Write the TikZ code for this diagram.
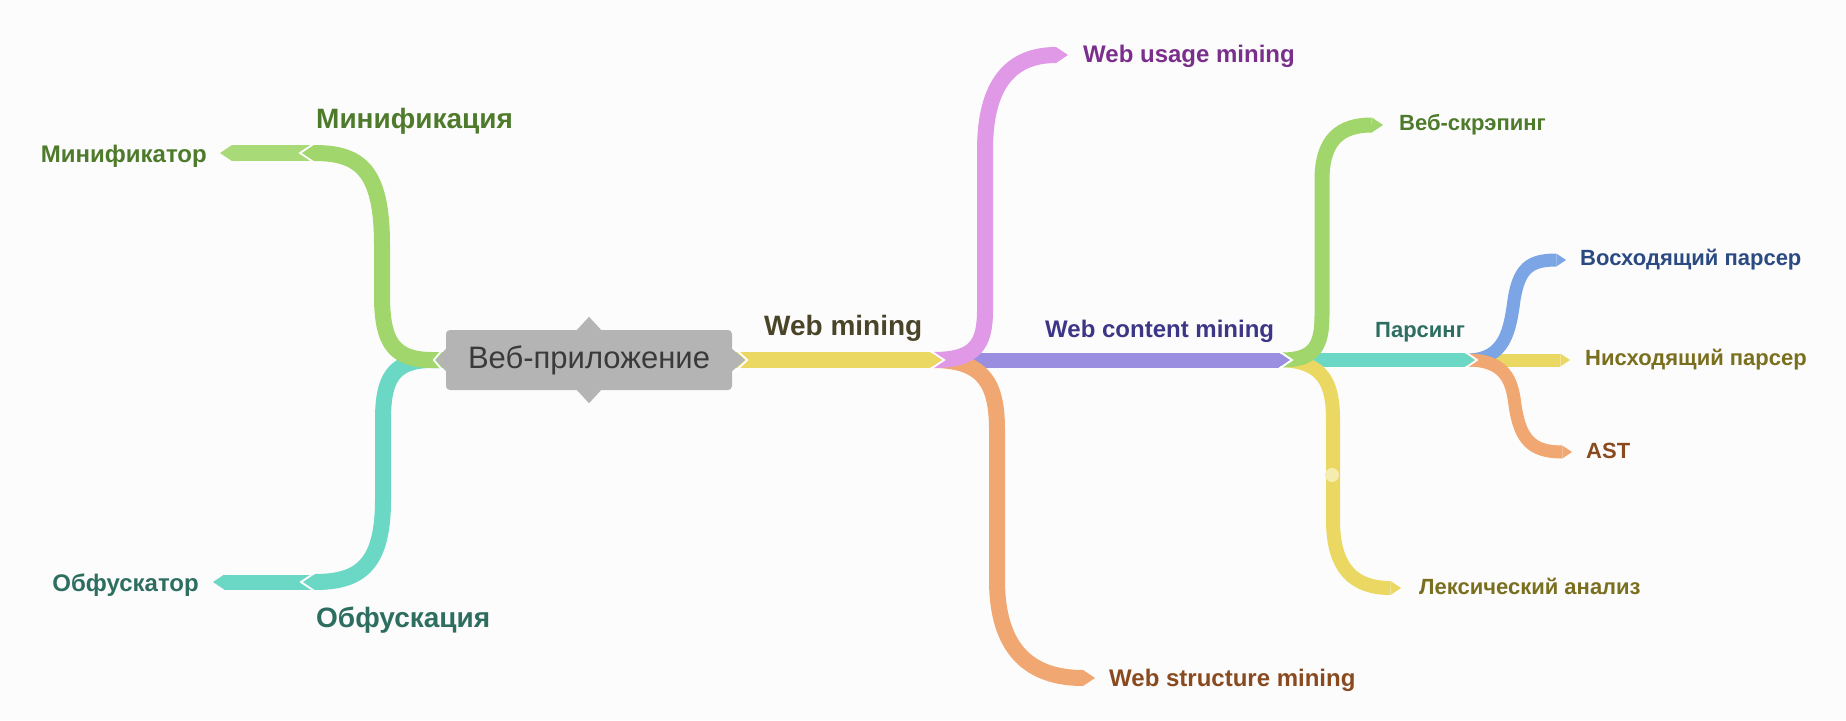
\documentclass[tikz,border=0pt]{standalone}
\usepackage{fontspec}
\setmainfont{Liberation Sans}
\usepackage{tikz}
\usetikzlibrary{arrows.meta}
\usetikzlibrary{positioning}

\definecolor{bgc}{HTML}{FCFCFC}
\definecolor{boxgray}{HTML}{B4B4B4}
\definecolor{apptext}{HTML}{3A3A3A}
\definecolor{cgreen}{HTML}{A0D66B}
\definecolor{cgreenL}{HTML}{A8DA78}
\definecolor{cteal}{HTML}{6AD8C5}
\definecolor{cyellow}{HTML}{EAD862}
\definecolor{cpink}{HTML}{E099E6}
\definecolor{corange}{HTML}{F0A772}
\definecolor{cpurple}{HTML}{9A8EE0}
\definecolor{cblue}{HTML}{7BA5E5}
\definecolor{dotc}{HTML}{F5EDB0}
\definecolor{tgreen}{HTML}{4E7A2C}
\definecolor{tteal}{HTML}{2E6E60}
\definecolor{tolive}{HTML}{4A4428}
\definecolor{tolivel}{HTML}{7A6F1E}
\definecolor{tpurple}{HTML}{7B2F8D}
\definecolor{tbrown}{HTML}{8A4A1F}
\definecolor{tindigo}{HTML}{3D3585}
\definecolor{tblue}{HTML}{2B4A82}

\tikzset{
  branch/.style={line width=#1, -{Triangle[width=0pt 1,length=0pt .75,line width=0pt]}},
  gap/.style={white, line width=1.8pt, line join=miter},
  lab/.style={anchor=base west, inner sep=0pt, font=\bfseries\fontsize{#1}{#1}\selectfont},
  appbox/.style={fill=boxgray, rounded corners=4pt, minimum width=286pt, minimum height=60pt,
                 inner sep=0pt, text=apptext, font=\fontsize{31}{31}\selectfont}
}

\begin{document}
\begin{tikzpicture}[x=1pt,y=-1pt]
    \fill[bgc] (0,0) rectangle (1846,720);

    % centre
    \node[appbox] (app) at (589,360) {Веб-приложение};

    % ends of the branches
    \coordinate (minJ) at (302,153);
    \coordinate (minE) at (220,153);
    \coordinate (obfJ) at (303,582);
    \coordinate (obfE) at (213,582);
    \coordinate (wm) at (942,360);
    \coordinate (usageE) at (1068,55);
    \coordinate (structE) at (1095,678);
    \coordinate (wcm) at (1290,360);
    \coordinate (scrapE) at (1383,125);
    \coordinate (lexE) at (1401,588);
    \coordinate (pars) at (1475,360);
    \coordinate (upE) at (1566,260);
    \coordinate (downE) at (1570,360);
    \coordinate (astE) at (1572,452);

    % left side
    \draw[branch=16pt, cgreenL] ([xshift=14pt]minJ) -- (minE);
    \draw[branch=15pt, cteal] ([xshift=14pt]obfJ) -- (obfE);
    \draw[branch=16pt, cteal] (app.west) -- (432,360) .. controls (392,360) and (383,380) .. (383,420)
        -- (383,500) .. controls (383,565) and (360,582) .. (obfJ);
    \draw[branch=16pt, cgreen] (app.west) -- (432,360) .. controls (392,360) and (383,340) .. (382,300)
        -- (382,245) .. controls (382,170) and (360,153) .. (minJ);

    % parsing
    \draw[branch=13pt, cyellow] ([xshift=-8pt]pars) -- (downE);
    \draw[branch=13pt, cblue] ([xshift=-8pt]pars) .. controls (1505,360) and (1510,330) .. (1514,300)
        .. controls (1519,268) and (1530,260) .. (upE);
    \draw[branch=13pt, corange] ([xshift=-8pt]pars) .. controls (1505,360) and (1512,380) .. (1515,405)
        .. controls (1520,440) and (1532,452) .. (astE);

    % web content mining
    \draw[branch=14pt, cteal] ([xshift=-6pt]wcm) -- (pars);
    \draw[branch=14pt, cyellow] ([xshift=-8pt]wcm) .. controls (1325,362) and (1333,385) .. (1333,420)
        -- (1333,520) .. controls (1333,570) and (1355,588) .. (lexE);
    \fill[dotc] (1332,475) circle (7pt);
    \draw[branch=15pt, cgreen] ([xshift=-8pt]wcm) .. controls (1315,360) and (1322,345) .. (1322,315)
        -- (1322,180) .. controls (1322,140) and (1340,125) .. (scrapE);

    % web mining
    \draw[branch=15pt, cpurple] ([xshift=-8pt]wm) -- (wcm);
    \draw[branch=16pt, corange] ([xshift=-9pt]wm) .. controls (985,360) and (997,385) .. (997,430)
        -- (997,580) .. controls (997,650) and (1030,678) .. (structE);
    \draw[branch=16pt, cpink] ([xshift=-9pt]wm) .. controls (975,360) and (985,345) .. (985,310)
        -- (985,150) .. controls (985,85) and (1010,55) .. (usageE);
    \draw[branch=16pt, cyellow] (app.east) -- (wm);

    % points of the box and white gaps
    \fill[boxgray] (app.north) ++(-12,0) -- ++(12,-13) -- ++(12,13) -- cycle;
    \fill[boxgray] (app.south) ++(-12,0) -- ++(12,13) -- ++(12,-13) -- cycle;
    \fill[boxgray] (app.west) ++(0,-11) -- ++(-10,11) -- ++(10,11) -- cycle;
    \fill[boxgray] (app.east) ++(0,-11) -- ++(13,11) -- ++(-13,11) -- cycle;
    \draw[gap] (app.west) ++(-1,-13) -- ++(-11,13) -- ++(11,13);
    \draw[gap] (app.east) ++(1,-13) -- ++(14,13) -- ++(-14,13);
    \draw[gap] (wm) ++(-13,-10) -- ++(15,10) -- ++(-15,10);
    \draw[gap] (wcm) ++(-12,-9.5) -- ++(14,9.5) -- ++(-14,9.5);
    \draw[gap] (pars) ++(-11,-9) -- ++(13,9) -- ++(-13,9);
    \draw[gap] (minJ) ++(13,-10) -- ++(-15,10) -- ++(15,10);
    \draw[gap] (obfJ) ++(13,-10) -- ++(-15,10) -- ++(15,10);

    % labels
    \node[lab=28, text=tgreen] (minif) at (316,128) {Минификация};
    \node[lab=24, text=tgreen, anchor=base east] (minifr) at (207,162) {Минификатор};
    \node[lab=28, text=tteal] (obf) at (316,627) {Обфускация};
    \node[lab=24, text=tteal, anchor=base east] (obfr) at (199,591) {Обфускатор};
    \node[lab=28, text=tolive] (webmin) at (764,335) {Web mining};
    \node[lab=24, text=tpurple] (usage) at (1083,62) {Web usage mining};
    \node[lab=24, text=tbrown] (struct) at (1109,686) {Web structure mining};
    \node[lab=24, text=tindigo] (content) at (1045,337) {Web content mining};
    \node[lab=22, text=tgreen] (scrap) at (1399,130) {Веб-скрэпинг};
    \node[lab=22, text=tolivel] (lex) at (1419,594) {Лексический анализ};
    \node[lab=22, text=tteal] (parsl) at (1375,337) {Парсинг};
    \node[lab=22, text=tblue] (up) at (1580,265) {Восходящий парсер};
    \node[lab=22, text=tolivel] (down) at (1585,365) {Нисходящий парсер};
    \node[lab=22, text=tbrown] (ast) at (1586,458) {AST};
\end{tikzpicture}
\end{document}
